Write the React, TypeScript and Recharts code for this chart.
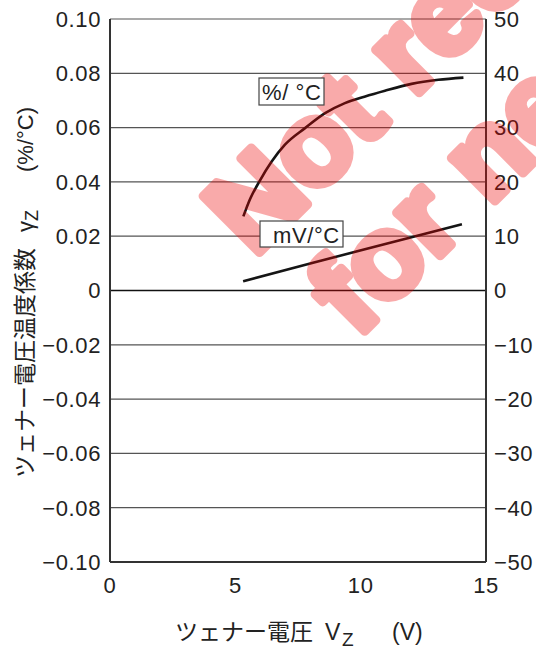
import React from "react";
import { LineChart, Line, XAxis, YAxis, CartesianGrid, ReferenceLine } from "recharts";

const vzTicks = [0, 5, 10, 15];
const leftTicks = [-0.1, -0.08, -0.06, -0.04, -0.02, 0, 0.02, 0.04, 0.06, 0.08, 0.1];
const rightTicks = [-50, -40, -30, -20, -10, 0, 10, 20, 30, 40, 50];

// %/°C curve (left axis)
const pctVz = [5.32, 5.58, 5.98, 6.45, 6.98, 7.78, 8.58, 9.37, 10.15, 10.97, 12.03, 13.1, 14.1];
const pctVal = [0.0273, 0.0335, 0.0405, 0.0475, 0.0537, 0.0598, 0.0653, 0.069, 0.0714, 0.0736, 0.0761, 0.0776, 0.0784];

// mV/°C curve (right axis)
const mvVz = [5.31, 8.1, 10.17, 14.04];
const mvVal = [1.7, 5.1, 7.6, 12.2];

const pctData = pctVz.map((x, i) => ({ vz: x, v: pctVal[i] }));
const mvData = mvVz.map((x, i) => ({ vz: x, v: mvVal[i] }));

const MINUS = "\u2212";
const fmtLeft = (v: number) =>
  Math.abs(v) < 1e-9 ? "0" : v < 0 ? MINUS + Math.abs(v).toFixed(2) : v.toFixed(2);
const fmtRight = (v: number) => (v < 0 ? MINUS + Math.abs(v) : String(v));

const LATIN = "'Liberation Sans', Arial, Helvetica, sans-serif";
const CJK = "'Noto Sans CJK JP', 'Noto Sans', sans-serif";
const tickStyle = { fontSize: 22, fill: "#222", fontFamily: LATIN, letterSpacing: 0.6 };

export default function App() {
  return (
    <div
      style={{
        position: "absolute",
        left: 0,
        top: 0,
        width: 536,
        height: 650,
        overflow: "hidden",
        background: "#fff",
      }}
    >
      <LineChart
        width={536}
        height={650}
        margin={{ top: 19, right: 0, bottom: 48, left: 0 }}
      >
        <CartesianGrid stroke="#555" strokeWidth={1.2} vertical={true} horizontal={true} yAxisId="left" />
        <XAxis
          xAxisId="b"
          dataKey="vz"
          type="number"
          domain={[0, 15]}
          ticks={vzTicks}
          interval={0}
          height={40}
          tickSize={0}
          tickMargin={15}
          tick={tickStyle}
          axisLine={{ stroke: "#333", strokeWidth: 2 }}
          tickLine={false}
          allowDataOverflow
        />
        <XAxis
          xAxisId="t"
          orientation="top"
          type="number"
          domain={[0, 15]}
          height={0}
          tick={false}
          tickLine={false}
          axisLine={{ stroke: "#333", strokeWidth: 2 }}
        />
        <YAxis
          yAxisId="left"
          type="number"
          domain={[-0.1, 0.1]}
          ticks={leftTicks}
          interval={0}
          width={110}
          tickSize={0}
          tickMargin={9}
          tick={tickStyle}
          tickFormatter={fmtLeft}
          axisLine={{ stroke: "#333", strokeWidth: 2 }}
          tickLine={false}
          allowDataOverflow
        />
        <YAxis
          yAxisId="right"
          orientation="right"
          type="number"
          domain={[-50, 50]}
          ticks={rightTicks}
          interval={0}
          width={50}
          tickSize={0}
          tickMargin={8}
          tick={tickStyle}
          tickFormatter={fmtRight}
          axisLine={{ stroke: "#333", strokeWidth: 2 }}
          tickLine={false}
          allowDataOverflow
        />
        <ReferenceLine xAxisId="b" yAxisId="left" y={0} stroke="#111" strokeWidth={1.3} />
        <Line
          xAxisId="b"
          yAxisId="left"
          data={pctData}
          dataKey="v"
          type="monotone"
          stroke="#151515"
          strokeWidth={2.6}
          dot={false}
          activeDot={false}
          isAnimationActive={false}
        />
        <Line
          xAxisId="b"
          yAxisId="right"
          data={mvData}
          dataKey="v"
          type="monotone"
          stroke="#151515"
          strokeWidth={2.6}
          dot={false}
          activeDot={false}
          isAnimationActive={false}
        />
      </LineChart>

      <svg
        width={536}
        height={650}
        style={{ position: "absolute", left: 0, top: 0, pointerEvents: "none" }}
      >
        {/* axis titles */}
        <text y={640} fill="#222" fontSize={23} fontFamily={CJK}>
          <tspan x={175}>ツェナー電圧</tspan>
        </text>
        <text y={640} fill="#222" fontSize={23} fontFamily={LATIN}>
          <tspan x={325}>V</tspan>
          <tspan x={342} dy={6} fontSize={19}>Z</tspan>
          <tspan x={392} dy={-6}>(V)</tspan>
        </text>
        <g transform="translate(33,478) rotate(-90)">
          <text x={0} y={0} fill="#222" fontSize={23} fontFamily={CJK}>ツェナー電圧温度係数</text>
          <text y={0} fill="#222" fontSize={22} fontFamily={LATIN}>
            <tspan x={246}>γ</tspan>
            <tspan x={257} dy={5} fontSize={18}>Z</tspan>
            <tspan x={306} dy={-5}>(%/°C)</tspan>
          </text>
        </g>

        {/* watermark */}
        <g
          opacity={0.33}
          fill="#ee0000"
          stroke="#ee0000"
          strokeWidth={9}
          strokeLinejoin="round"
          fontFamily={LATIN}
          fontWeight="bold"
          fontSize={116}
        >
          <text transform="translate(254,258) rotate(-45)">Not recommended</text>
          <text transform="translate(357,339) rotate(-45)">for new design</text>
        </g>

        {/* curve labels */}
        <rect x={259} y={78} width={65} height={27} fill="#fff" stroke="#444" strokeWidth={1.2} />
        <text x={262} y={100} fill="#222" fontSize={22} fontFamily={LATIN} letterSpacing={0.6}>
          %/ °C
        </text>
        <rect x={260} y={221} width={83} height={26} fill="#fff" stroke="#444" strokeWidth={1.2} />
        <text x={273} y={243} fill="#222" fontSize={22} fontFamily={LATIN} letterSpacing={0.6}>
          mV/°C
        </text>
      </svg>
    </div>
  );
}
